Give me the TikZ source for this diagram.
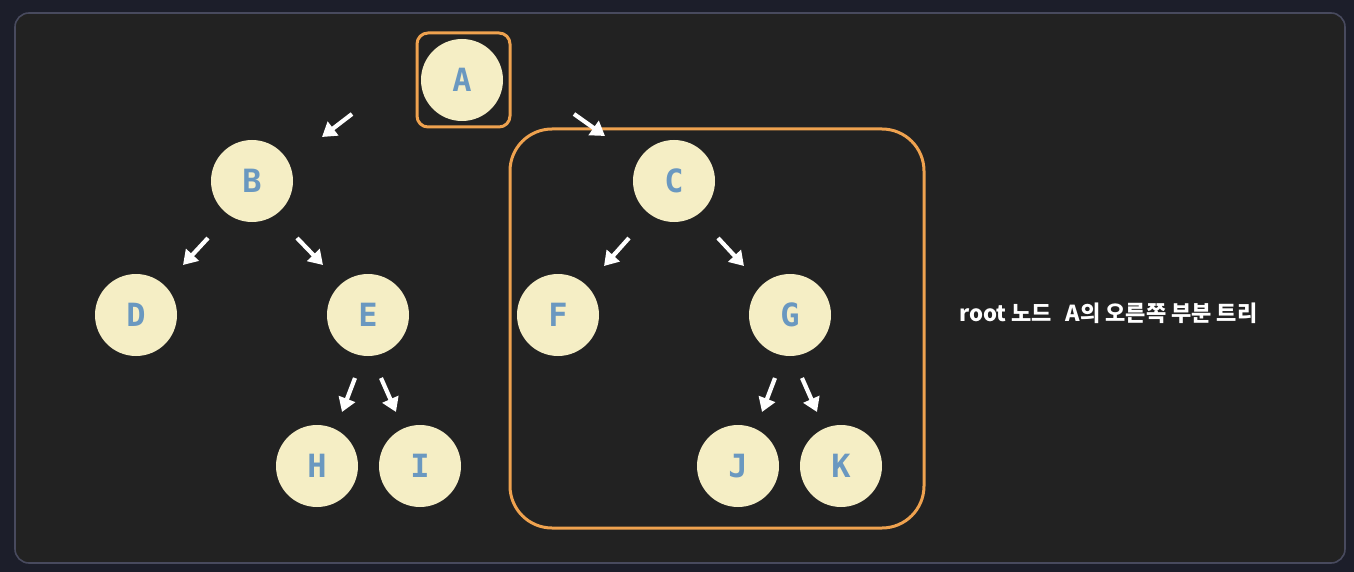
\documentclass[tikz,border=0pt]{standalone}
\usepackage{fontspec}
\setmonofont{DejaVu Sans Mono}
\newfontfamily\krfont{Noto Sans CJK KR}
\usetikzlibrary{arrows.meta}
\definecolor{hatter}{HTML}{1C1E2A}
\definecolor{lap}{HTML}{222222}
\definecolor{lapszel}{HTML}{484A5E}
\definecolor{krem}{HTML}{F5EEC5}
\definecolor{betu}{HTML}{6A98C0}
\definecolor{narancs}{HTML}{EFA24F}
\tikzset{
  csucs/.style={circle,fill=krem,minimum size=82pt,inner sep=0pt,
    text=betu,font=\ttfamily\bfseries\fontsize{32}{32}\selectfont},
  nyil/.style={white,line width=4.2pt,-{Triangle[length=14pt,width=17pt]}},
  keret/.style={draw=narancs,line width=3pt},
}
\begin{document}
\begin{tikzpicture}[x=1pt,y=-1pt]
  \useasboundingbox (0,0) rectangle (1354,572);
  \fill[hatter] (0,0) rectangle (1354,572);
  \draw[fill=lap,draw=lapszel,line width=1.6pt,rounded corners=14pt] (15,13) rectangle (1345,563);
  % csucsok
  \node[csucs] (A) at (462,80) {A};
  \node[csucs] (B) at (252,181) {B};
  \node[csucs] (C) at (674,181) {C};
  \node[csucs] (D) at (136,315) {D};
  \node[csucs] (E) at (368,315) {E};
  \node[csucs] (F) at (558,315) {F};
  \node[csucs] (G) at (790,315) {G};
  \node[csucs] (H) at (317,466) {H};
  \node[csucs] (I) at (420,466) {I};
  \node[csucs] (J) at (738,466) {J};
  \node[csucs] (K) at (841,466) {K};
  % keretek
  \draw[keret,rounded corners=11pt] (417,33) rectangle (510,127);
  \draw[keret,rounded corners=42pt] (510,129) rectangle (924,528);
  % nyilak
  \coordinate (ab1) at (352,114); \coordinate (ab2) at (322,137);
  \coordinate (ac1) at (574,114); \coordinate (ac2) at (605,136);
  \coordinate (bd1) at (208,238); \coordinate (bd2) at (183,265);
  \coordinate (be1) at (297,238); \coordinate (be2) at (323,265);
  \coordinate (cf1) at (629,238); \coordinate (cf2) at (604,266);
  \coordinate (cg1) at (718,238); \coordinate (cg2) at (744,266);
  \coordinate (eh1) at (355,378); \coordinate (eh2) at (342,412);
  \coordinate (ei1) at (381,378); \coordinate (ei2) at (396,412);
  \coordinate (gj1) at (775,378); \coordinate (gj2) at (762,412);
  \coordinate (gk1) at (802,378); \coordinate (gk2) at (817,412);
  \foreach \p in {ab,ac,bd,be,cf,cg,eh,ei,gj,gk}
    \draw[nyil] (\p1) -- (\p2);
  \node[anchor=west,text=white,font=\krfont\bfseries\fontsize{22}{26}\selectfont]
    (cim) at (956,313) {root 노드\ \ \,A의 오른쪽 부분 트리};
\end{tikzpicture}
\end{document}
